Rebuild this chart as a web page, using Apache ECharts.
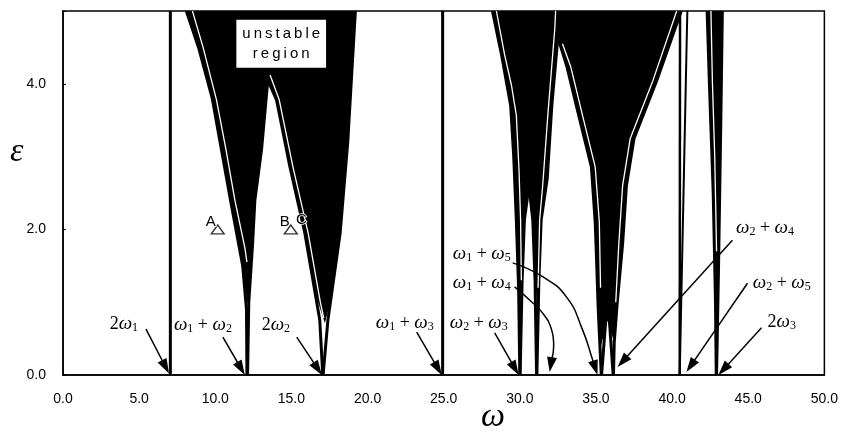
<!DOCTYPE html>
<html><head><meta charset="utf-8">
<script src="https://cdn.jsdelivr.net/npm/echarts@6/dist/echarts.min.js"></script>
<style>html,body{margin:0;padding:0;background:#fff}#c{width:841px;height:433px}</style>
</head><body><div id="c"></div>
<script>
// ---------- data (axis units: omega, epsilon) ----------
// black unstable regions
const fillA = [[12.1,1.0],[11.8,1.5],[11.0,2.4],[10.4,3.1],[9.8,3.8],[8.9,4.5],[8.1,5.0],[19.2,5.0],[18.7,3.2],[18.2,1.95],[17.55,1.0],[17.2,0.71],[16.75,1.0],[15.88,1.95],[14.9,2.86],[14.02,3.78],[13.45,4.05],[13.04,3.1],[12.6,2.4],[12.45,1.8],[12.2,1.0]];
const fillB = [[30.02,0.75],[29.92,1.2],[29.77,2.13],[29.6,3.0],[29.4,3.7],[28.8,4.4],[28.2,5.0],[40.6,5.0],[39.0,4.05],[37.5,3.25],[37.0,2.6],[36.75,1.8],[36.4,1.0],[36.2,0.45],[35.75,0.75],[35.33,0.4],[35.15,0.9],[35.02,1.7],[34.95,2.1],[34.7,2.86],[33.9,3.54],[33.1,4.23],[32.5,4.64],[32.1,3.7],[31.8,2.7],[31.4,2.13],[31.25,1.3],[31.15,0.95],[31.0,1.3],[30.85,2.13],[30.6,2.6],[30.3,2.13],[30.15,1.3]];
const fillC = [[42.9,0.6],[42.85,1.0],[42.7,2.5],[42.45,4.0],[42.3,5.0],[43.3,5.0],[43.2,3.5],[43.05,1.5],[42.95,0.6]];

// boundary curves (thick black)
const line2w1 = [[7.05,0],[7.05,5]];
const lineL2 = [[12.08,0],[12.05,0.9],[11.8,1.5],[11.0,2.4],[10.4,3.1],[9.8,3.8],[8.9,4.5],[8.1,5.0]];
const lineR2 = [[12.12,0],[12.2,1.0],[12.45,1.8],[12.6,2.4],[13.04,3.1],[13.45,4.05]];
const lineL3 = [[17.06,0],[16.86,0.76],[15.88,1.95],[14.9,2.86],[14.02,3.78],[13.45,4.05]];
const lineR3 = [[17.08,0],[17.4,0.76],[18.2,1.95],[18.7,3.2],[19.2,5.0]];
const lineW13 = [[24.93,0],[24.93,5]];
const lineL5 = [[30.0,0],[29.95,0.75],[29.92,1.2],[29.77,2.13],[29.6,3.0],[29.4,3.7],[28.8,4.4],[28.2,5.0]];
const lineR5 = [[30.02,0],[30.15,1.3],[30.3,2.13],[30.6,2.6]];
const lineL6 = [[31.1,0],[31.0,1.3],[30.85,2.13],[30.6,2.6]];
const lineR6 = [[31.12,0],[31.25,1.3],[31.4,2.13],[31.8,2.7],[32.1,3.7],[32.5,4.64]];
const lineL7 = [[35.35,0],[35.15,0.9],[35.02,1.7],[34.95,2.1],[34.7,2.86],[33.9,3.54],[33.1,4.23],[32.5,4.64]];
const lineR7 = [[35.37,0],[35.95,1.6]];
const lineL8 = [[36.13,0],[35.6,1.6]];
const lineR8 = [[36.15,0],[36.2,0.45],[36.4,1.0],[36.75,1.8],[37.0,2.6],[37.5,3.25],[39.0,4.05],[40.6,5.0]];
const lineL10 = [[42.9,0],[42.85,1.0],[42.7,2.5],[42.45,4.0],[42.3,5.0]];
const lineR10 = [[42.92,0],[43.05,1.5],[43.2,3.5],[43.3,5.0]];
const lineW25a = [[40.5,0],[40.52,5]];
const lineW25b = [[40.5,0],[41.0,5]];

// thin white gaps inside the regions
const gapL2 = [[12.08,1.55],[11.94,1.75],[11.29,2.4],[10.7,3.1],[10.08,3.78],[9.2,4.5],[8.5,5.0]];
const gapL3 = [[17.12,0.78],[16.9,1.0],[16.1,1.95],[15.1,2.86],[14.2,3.78],[13.6,4.12]];
const gapL5 = [[30.1,1.3],[30.05,2.13],[29.95,2.8],[29.77,3.57],[29.45,3.98],[29.0,4.4],[28.46,5.0]];
const gapR6 = [[31.2,1.2],[31.3,2.13],[31.5,2.6],[31.85,3.6],[32.3,4.77],[32.35,5.0]];
const gapL7 = [[35.3,1.2],[35.22,2.1],[34.95,2.86],[34.15,3.54],[33.35,4.23],[32.8,4.55]];
const gapR8 = [[36.3,1.0],[36.5,1.8],[36.75,2.6],[37.25,3.25],[38.75,4.05],[40.3,5.0]];
const gapL10 = [[42.92,1.7],[42.8,3.0],[42.65,4.0],[42.55,5.0]];

// arrows: [start, ..., tip]
const arrowsStraight = [
  [[5.45,0.63],[6.96,0.02]],
  [[10.5,0.52],[11.94,0.0]],
  [[15.35,0.52],[17.0,0.0]],
  [[23.23,0.59],[24.87,0.0]],
  [[28.35,0.58],[29.92,0.0]],
  [[43.96,1.85],[36.42,0.11]],
  [[44.95,1.26],[40.94,0.04]],
  [[45.87,0.65],[43.04,0.0]]
];
const arrowsCurved = [
  [[29.66,1.21],[30.64,1.03],[31.5,0.85],[32.09,0.62],[32.22,0.38],[31.96,0.04]],
  [[29.53,1.54],[31.5,1.35],[33.07,1.07],[34.12,0.62],[34.78,0.21],[35.1,0.0]]
];
const labelNames = ['2ω1','ω1+ω2','2ω2','ω1+ω3','ω2+ω3','ω1+ω4','ω1+ω5','ω2+ω4','ω2+ω5','2ω3'];
const labelPos = [[4.0,0.70],[9.19,0.69],[13.98,0.69],[22.44,0.71],[27.3,0.71],[27.5,1.26],[27.5,1.66],[46.1,2.02],[47.2,1.26],[47.2,0.73]];

// points A, B and letters
const pointsAB = [[10.16,2.0],[14.96,2.0]];
const letterNames = ['A','B','C'];
const letterPos = [[9.71,2.10],[14.57,2.10],[15.66,2.13]];
const boxPos = [[14.33,4.55]];
const boxText = ['u\u2009n\u2009s\u2009t\u2009a\u2009b\u2009l\u2009e\nr\u2009e\u2009g\u2009i\u2009o\u2009n'];

// ---------- chart ----------
const SERIF = 'Liberation Serif';
const SANS = 'Liberation Sans';

function polySeries(shapes, kind, color, width, smooth) {
  return {
    type: 'custom', coordinateSystem: 'cartesian2d', silent: true, clip: true,
    data: shapes.map((s, i) => [s[0][0], s[0][1], i]),
    encode: { x: 0, y: 1 },
    renderItem: (params, api) => {
      const pts = shapes[api.value(2)].map(p => api.coord(p));
      if (kind === 'fill') return { type: 'polygon', shape: { points: pts }, style: { fill: color } };
      return { type: 'polyline', shape: { points: pts, smooth: smooth || 0 },
        style: { stroke: color, lineWidth: width, fill: null, lineJoin: 'round', lineCap: 'butt' } };
    }
  };
}

function arrowSeries(shapes, smooth) {
  return {
    type: 'custom', coordinateSystem: 'cartesian2d', silent: true, clip: false,
    data: shapes.map((s, i) => [s[0][0], s[0][1], i]),
    encode: { x: 0, y: 1 },
    renderItem: (params, api) => {
      const pts = shapes[api.value(2)].map(p => api.coord(p));
      const n = pts.length, p1 = pts[n - 1], p0 = pts[n - 2];
      let dx = p1[0] - p0[0], dy = p1[1] - p0[1];
      const len = Math.hypot(dx, dy); dx /= len; dy /= len;
      const L = 15, W = 5;
      const bx = p1[0] - dx * L, by = p1[1] - dy * L;
      const shaft = pts.slice(0, n - 1).concat([[bx + dx * 2, by + dy * 2]]);
      return { type: 'group', children: [
        { type: 'polyline', shape: { points: shaft, smooth: smooth }, style: { stroke: '#000', lineWidth: 1.5, fill: null } },
        { type: 'polygon', shape: { points: [p1, [bx - dy * W, by + dx * W], [bx + dy * W, by - dx * W]] }, style: { fill: '#000' } }
      ] };
    }
  };
}

function richLabel(s) {
  let out = '';
  let i = 0;
  while (i < s.length) {
    const c = s[i];
    if (c === 'ω') { out += '{w|ω}{s|' + s[i + 1] + '}'; i += 2; }
    else if (c === '+') { out += '{p| + }'; i += 1; }
    else { out += '{n|' + c + '}'; i += 1; }
  }
  return out;
}

const richStyles = {
  w: { fontFamily: SERIF, fontStyle: 'italic', fontSize: 19, lineHeight: 20, fill: '#000' },
  n: { fontFamily: SERIF, fontSize: 18, lineHeight: 20, fill: '#000' },
  p: { fontFamily: SERIF, fontSize: 18, lineHeight: 20, fill: '#000' },
  s: { fontFamily: SERIF, fontSize: 12, lineHeight: 8, verticalAlign: 'bottom', fill: '#000' }
};

const chart = echarts.init(document.getElementById('c'), null, { renderer: 'canvas' });
chart.setOption({
  animation: false,
  backgroundColor: '#fff',
  title: [
    { text: 'ω', left: 476, top: 395, textStyle: { fontFamily: SERIF, fontStyle: 'italic', fontWeight: 'normal', fontSize: 34, color: '#000' } },
    { text: 'ε', left: 5, top: 130, textStyle: { fontFamily: SERIF, fontStyle: 'italic', fontWeight: 'normal', fontSize: 34, color: '#000' } }
  ],
  grid: { left: 63, right: 16, top: 11, bottom: 58, show: true, borderColor: '#000', borderWidth: 1.5, backgroundColor: 'transparent' },
  xAxis: {
    type: 'value', min: 0, max: 50, interval: 5,
    axisLine: { lineStyle: { color: '#000', width: 1.5 } },
    axisTick: { show: false }, splitLine: { show: false },
    axisLabel: { formatter: v => v.toFixed(1), color: '#000', fontSize: 14, fontFamily: SANS, margin: 17 }
  },
  yAxis: {
    type: 'value', min: 0, max: 5, interval: 2,
    axisLine: { lineStyle: { color: '#000', width: 1.5 } },
    axisTick: { show: true, inside: true, length: 3, lineStyle: { color: '#000' } },
    splitLine: { show: false },
    axisLabel: { formatter: v => (v % 2 === 0 ? v.toFixed(1) : ''), color: '#000', fontSize: 14, fontFamily: SANS, margin: 17 }
  },
  series: [
    polySeries([fillA, fillB, fillC], 'fill', '#000'),
    polySeries([line2w1, lineL2, lineR2, lineL3, lineR3, lineW13, lineL5, lineR5, lineL6, lineR6, lineL7, lineR7, lineL8, lineR8, lineL10, lineR10], 'line', '#000', 3),
    polySeries([lineW25a], 'line', '#000', 2.5),
    polySeries([lineW25b], 'line', '#000', 2),
    polySeries([gapL2, gapL3, gapL5, gapR6, gapL7, gapR8, gapL10], 'line', '#fff', 1.3),
    arrowSeries(arrowsStraight, 0),
    arrowSeries(arrowsCurved, 0.5),
    {
      type: 'scatter', silent: true, data: pointsAB, symbol: 'triangle', symbolSize: [13, 9],
      itemStyle: { color: '#fff', borderColor: '#000', borderWidth: 1.3 }, z: 5
    },
    {
      type: 'custom', coordinateSystem: 'cartesian2d', silent: true, clip: false, z: 6,
      data: letterPos.map((p, i) => [p[0], p[1], i]), encode: { x: 0, y: 1 },
      renderItem: (params, api) => {
        const c = api.coord([api.value(0), api.value(1)]);
        return { type: 'text', x: c[0], y: c[1], style: { text: letterNames[api.value(2)], fontFamily: SANS, fontSize: 15, fill: '#000', stroke: '#fff', lineWidth: 1.5, align: 'center', verticalAlign: 'middle' } };
      }
    },
    {
      type: 'custom', coordinateSystem: 'cartesian2d', silent: true, clip: false, z: 6,
      data: labelPos.map((p, i) => [p[0], p[1], i]), encode: { x: 0, y: 1 },
      renderItem: (params, api) => {
        const c = api.coord([api.value(0), api.value(1)]);
        return { type: 'text', x: c[0], y: c[1], style: { text: richLabel(labelNames[api.value(2)]), rich: richStyles, align: 'center', verticalAlign: 'middle', fill: '#000' } };
      }
    },
    {
      type: 'custom', coordinateSystem: 'cartesian2d', silent: true, clip: false, z: 6,
      data: boxPos.map((p, i) => [p[0], p[1], i]), encode: { x: 0, y: 1 },
      renderItem: (params, api) => {
        const c = api.coord([api.value(0), api.value(1)]);
        return { type: 'text', x: c[0], y: c[1], style: { text: boxText[api.value(2)], fontFamily: SANS, fontSize: 15, lineHeight: 20, fill: '#000', backgroundColor: '#fff', padding: [4, 6, 4, 6], align: 'center', verticalAlign: 'middle' } };
      }
    }
  ]
});
</script></body></html>
